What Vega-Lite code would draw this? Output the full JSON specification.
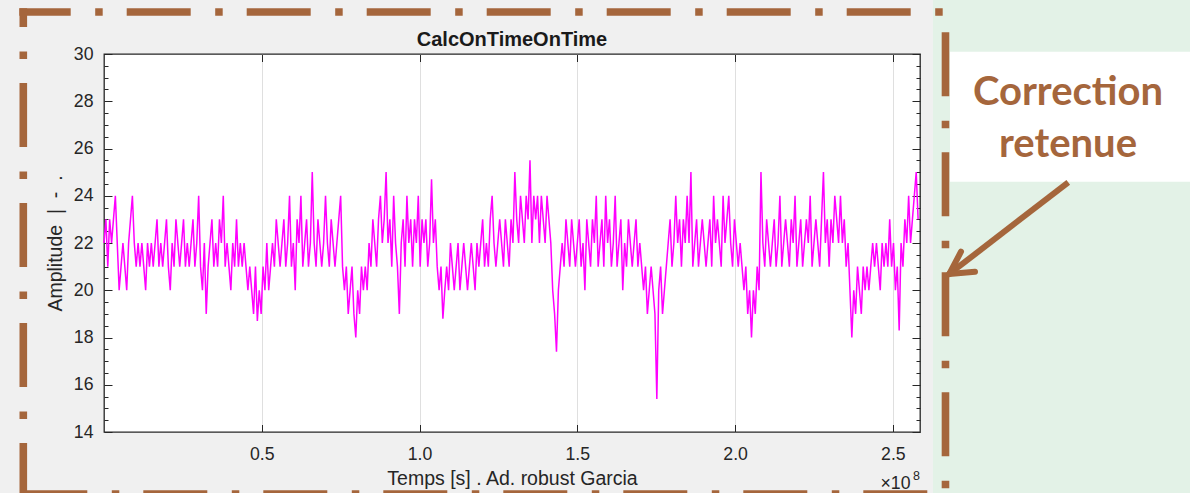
{
"$schema": "https://vega.github.io/schema/vega-lite/v6.json",
"width": 816, "height": 378,
"autosize": {"type": "none"},
"padding": {"left": 104, "top": 54, "right": 270, "bottom": 61},
"background": "#f0f0f0",
"config": {
  "view": {"fill": "#ffffff", "stroke": "#262626", "strokeWidth": 1.3},
  "axis": {"labelFont": "Liberation Sans", "titleFont": "Liberation Sans", "labelColor": "#262626", "titleColor": "#262626", "tickColor": "#262626", "labelOverlap": false, "labelFlush": false}
},
"datasets": {"sig": [
{"t":0,"v":22},{"t":0.006,"v":23},{"t":0.012,"v":21},{"t":0.018,"v":23},{"t":0.024,"v":22},{"t":0.03,"v":23},{"t":0.036,"v":24},{"t":0.042,"v":22},{"t":0.048,"v":20},{"t":0.054,"v":21},
{"t":0.06,"v":22},{"t":0.066,"v":21},{"t":0.072,"v":20},{"t":0.078,"v":22},{"t":0.084,"v":23},{"t":0.09,"v":24},{"t":0.096,"v":22},{"t":0.102,"v":21},{"t":0.108,"v":22},{"t":0.114,"v":21},
{"t":0.12,"v":22},{"t":0.126,"v":21},{"t":0.132,"v":20},{"t":0.138,"v":22},{"t":0.144,"v":21},{"t":0.15,"v":22},{"t":0.156,"v":21},{"t":0.162,"v":22},{"t":0.168,"v":23},{"t":0.174,"v":21},
{"t":0.18,"v":22},{"t":0.186,"v":21},{"t":0.192,"v":22},{"t":0.198,"v":23},{"t":0.204,"v":21},{"t":0.21,"v":20},{"t":0.216,"v":22},{"t":0.222,"v":21},{"t":0.228,"v":23},{"t":0.234,"v":22},
{"t":0.24,"v":21},{"t":0.246,"v":22},{"t":0.252,"v":23},{"t":0.258,"v":21},{"t":0.264,"v":22},{"t":0.27,"v":21},{"t":0.276,"v":22},{"t":0.282,"v":23},{"t":0.288,"v":21},{"t":0.294,"v":22},
{"t":0.3,"v":24},{"t":0.306,"v":21},{"t":0.312,"v":20},{"t":0.318,"v":22},{"t":0.324,"v":19},{"t":0.33,"v":21},{"t":0.336,"v":22},{"t":0.342,"v":23},{"t":0.348,"v":21},{"t":0.354,"v":22},
{"t":0.36,"v":21},{"t":0.366,"v":23},{"t":0.372,"v":22},{"t":0.378,"v":24},{"t":0.384,"v":21},{"t":0.39,"v":22},{"t":0.396,"v":21},{"t":0.402,"v":20},{"t":0.408,"v":22},{"t":0.414,"v":21},
{"t":0.42,"v":23},{"t":0.426,"v":21},{"t":0.432,"v":22},{"t":0.438,"v":21},{"t":0.444,"v":22},{"t":0.45,"v":21},{"t":0.456,"v":20},{"t":0.462,"v":21},{"t":0.468,"v":20},{"t":0.474,"v":19},
{"t":0.48,"v":21},{"t":0.486,"v":18.7},{"t":0.492,"v":20},{"t":0.498,"v":19},{"t":0.504,"v":21},{"t":0.51,"v":20},{"t":0.516,"v":22},{"t":0.522,"v":20},{"t":0.528,"v":21},{"t":0.534,"v":22},
{"t":0.54,"v":21},{"t":0.546,"v":23},{"t":0.552,"v":22},{"t":0.558,"v":21},{"t":0.564,"v":22},{"t":0.57,"v":23},{"t":0.576,"v":21},{"t":0.582,"v":22},{"t":0.588,"v":24},{"t":0.594,"v":21},
{"t":0.6,"v":22},{"t":0.606,"v":20},{"t":0.612,"v":23},{"t":0.618,"v":22},{"t":0.624,"v":24},{"t":0.63,"v":21},{"t":0.636,"v":22},{"t":0.642,"v":23},{"t":0.648,"v":21},{"t":0.654,"v":22},
{"t":0.66,"v":25},{"t":0.666,"v":22},{"t":0.672,"v":21},{"t":0.678,"v":23},{"t":0.684,"v":22},{"t":0.69,"v":21},{"t":0.696,"v":22},{"t":0.702,"v":24},{"t":0.708,"v":22},{"t":0.714,"v":21},
{"t":0.72,"v":23},{"t":0.726,"v":22},{"t":0.732,"v":21},{"t":0.738,"v":22},{"t":0.744,"v":23},{"t":0.75,"v":24},{"t":0.756,"v":21},{"t":0.762,"v":20},{"t":0.768,"v":21},{"t":0.774,"v":19},
{"t":0.78,"v":20},{"t":0.786,"v":21},{"t":0.792,"v":19},{"t":0.798,"v":18},{"t":0.804,"v":20},{"t":0.81,"v":19},{"t":0.816,"v":21},{"t":0.822,"v":20},{"t":0.828,"v":21},{"t":0.834,"v":20},
{"t":0.84,"v":22},{"t":0.846,"v":21},{"t":0.852,"v":23},{"t":0.858,"v":22},{"t":0.864,"v":21},{"t":0.87,"v":23},{"t":0.876,"v":24},{"t":0.882,"v":22},{"t":0.888,"v":23},{"t":0.894,"v":25},
{"t":0.9,"v":22},{"t":0.906,"v":23},{"t":0.912,"v":21},{"t":0.918,"v":24},{"t":0.924,"v":22},{"t":0.93,"v":21},{"t":0.936,"v":19},{"t":0.942,"v":22},{"t":0.948,"v":23},{"t":0.954,"v":21},
{"t":0.96,"v":24},{"t":0.966,"v":22},{"t":0.972,"v":23},{"t":0.978,"v":21},{"t":0.984,"v":23},{"t":0.99,"v":22},{"t":0.996,"v":24},{"t":1.002,"v":21},{"t":1.008,"v":23},{"t":1.014,"v":22},
{"t":1.02,"v":23},{"t":1.026,"v":21},{"t":1.032,"v":22},{"t":1.038,"v":24.7},{"t":1.044,"v":22},{"t":1.05,"v":23},{"t":1.056,"v":21},{"t":1.062,"v":20},{"t":1.068,"v":21},{"t":1.074,"v":18.8},
{"t":1.08,"v":20},{"t":1.086,"v":21},{"t":1.092,"v":20},{"t":1.098,"v":22},{"t":1.104,"v":21},{"t":1.11,"v":20},{"t":1.116,"v":21},{"t":1.122,"v":22},{"t":1.128,"v":20},{"t":1.134,"v":21},
{"t":1.14,"v":22},{"t":1.146,"v":21},{"t":1.152,"v":20},{"t":1.158,"v":21},{"t":1.164,"v":22},{"t":1.17,"v":21},{"t":1.176,"v":20},{"t":1.182,"v":22},{"t":1.188,"v":21},{"t":1.194,"v":22},
{"t":1.2,"v":23},{"t":1.206,"v":21},{"t":1.212,"v":22},{"t":1.218,"v":21},{"t":1.224,"v":23},{"t":1.23,"v":24},{"t":1.236,"v":22},{"t":1.242,"v":21},{"t":1.248,"v":22},{"t":1.254,"v":23},
{"t":1.26,"v":22},{"t":1.266,"v":21},{"t":1.272,"v":23},{"t":1.278,"v":22},{"t":1.284,"v":21},{"t":1.29,"v":23},{"t":1.296,"v":22},{"t":1.302,"v":25},{"t":1.308,"v":23},{"t":1.314,"v":22},
{"t":1.32,"v":24},{"t":1.326,"v":23},{"t":1.332,"v":22},{"t":1.338,"v":24},{"t":1.344,"v":23},{"t":1.35,"v":25.5},{"t":1.356,"v":22},{"t":1.362,"v":24},{"t":1.368,"v":23},{"t":1.374,"v":24},
{"t":1.38,"v":22},{"t":1.386,"v":24},{"t":1.392,"v":23},{"t":1.398,"v":22},{"t":1.404,"v":24},{"t":1.41,"v":23},{"t":1.416,"v":22},{"t":1.422,"v":20},{"t":1.428,"v":19},{"t":1.434,"v":17.4},
{"t":1.44,"v":20},{"t":1.446,"v":21},{"t":1.452,"v":22},{"t":1.458,"v":21},{"t":1.464,"v":23},{"t":1.47,"v":22},{"t":1.476,"v":21},{"t":1.482,"v":23},{"t":1.488,"v":22},{"t":1.494,"v":21},
{"t":1.5,"v":22},{"t":1.506,"v":23},{"t":1.512,"v":21},{"t":1.518,"v":22},{"t":1.524,"v":20},{"t":1.53,"v":23},{"t":1.536,"v":22},{"t":1.542,"v":21},{"t":1.548,"v":23},{"t":1.554,"v":22},
{"t":1.56,"v":24},{"t":1.566,"v":21},{"t":1.572,"v":22},{"t":1.578,"v":23},{"t":1.584,"v":21},{"t":1.59,"v":24},{"t":1.596,"v":22},{"t":1.602,"v":23},{"t":1.608,"v":21},{"t":1.614,"v":22},
{"t":1.62,"v":24},{"t":1.626,"v":21},{"t":1.632,"v":22},{"t":1.638,"v":23},{"t":1.644,"v":20},{"t":1.65,"v":22},{"t":1.656,"v":21},{"t":1.662,"v":23},{"t":1.668,"v":22},{"t":1.674,"v":21},
{"t":1.68,"v":22},{"t":1.686,"v":23},{"t":1.692,"v":21},{"t":1.698,"v":22},{"t":1.704,"v":21},{"t":1.71,"v":20},{"t":1.716,"v":21},{"t":1.722,"v":19},{"t":1.728,"v":20},{"t":1.734,"v":21},
{"t":1.74,"v":20},{"t":1.746,"v":19},{"t":1.752,"v":15.4},{"t":1.758,"v":20},{"t":1.764,"v":21},{"t":1.77,"v":19},{"t":1.776,"v":20},{"t":1.782,"v":21},{"t":1.788,"v":22},{"t":1.794,"v":23},
{"t":1.8,"v":21},{"t":1.806,"v":22},{"t":1.812,"v":24},{"t":1.818,"v":22},{"t":1.824,"v":23},{"t":1.83,"v":21},{"t":1.836,"v":23},{"t":1.842,"v":22},{"t":1.848,"v":24},{"t":1.854,"v":22},
{"t":1.86,"v":25},{"t":1.866,"v":21},{"t":1.872,"v":22},{"t":1.878,"v":23},{"t":1.884,"v":21},{"t":1.89,"v":22},{"t":1.896,"v":23},{"t":1.902,"v":22},{"t":1.908,"v":21},{"t":1.914,"v":22},
{"t":1.92,"v":23},{"t":1.926,"v":21},{"t":1.932,"v":24},{"t":1.938,"v":22},{"t":1.944,"v":23},{"t":1.95,"v":22},{"t":1.956,"v":21},{"t":1.962,"v":24},{"t":1.968,"v":22},{"t":1.974,"v":23},
{"t":1.98,"v":24},{"t":1.986,"v":22},{"t":1.992,"v":21},{"t":1.998,"v":23},{"t":2.004,"v":22},{"t":2.01,"v":21},{"t":2.016,"v":22},{"t":2.022,"v":21},{"t":2.028,"v":20},{"t":2.034,"v":21},
{"t":2.04,"v":19},{"t":2.046,"v":20},{"t":2.052,"v":18},{"t":2.058,"v":20},{"t":2.064,"v":19},{"t":2.07,"v":21},{"t":2.076,"v":20},{"t":2.082,"v":25},{"t":2.088,"v":22},{"t":2.094,"v":21},
{"t":2.1,"v":23},{"t":2.106,"v":22},{"t":2.112,"v":21},{"t":2.118,"v":22},{"t":2.124,"v":23},{"t":2.13,"v":21},{"t":2.136,"v":22},{"t":2.142,"v":24},{"t":2.148,"v":21},{"t":2.154,"v":22},
{"t":2.16,"v":23},{"t":2.166,"v":22},{"t":2.172,"v":21},{"t":2.178,"v":23},{"t":2.184,"v":22},{"t":2.19,"v":24},{"t":2.196,"v":21},{"t":2.202,"v":22},{"t":2.208,"v":23},{"t":2.214,"v":21},
{"t":2.22,"v":22},{"t":2.226,"v":23},{"t":2.232,"v":22},{"t":2.238,"v":24},{"t":2.244,"v":21},{"t":2.25,"v":22},{"t":2.256,"v":23},{"t":2.262,"v":22},{"t":2.268,"v":21},{"t":2.274,"v":23},
{"t":2.28,"v":25},{"t":2.286,"v":22},{"t":2.292,"v":23},{"t":2.298,"v":21},{"t":2.304,"v":23},{"t":2.31,"v":22},{"t":2.316,"v":24},{"t":2.322,"v":23},{"t":2.328,"v":22},{"t":2.334,"v":24},
{"t":2.34,"v":22},{"t":2.346,"v":23},{"t":2.352,"v":21},{"t":2.358,"v":22},{"t":2.364,"v":20},{"t":2.37,"v":18},{"t":2.376,"v":20},{"t":2.382,"v":19},{"t":2.388,"v":21},{"t":2.394,"v":20},
{"t":2.4,"v":19},{"t":2.406,"v":21},{"t":2.412,"v":20},{"t":2.418,"v":21},{"t":2.424,"v":20},{"t":2.43,"v":21},{"t":2.436,"v":22},{"t":2.442,"v":21},{"t":2.448,"v":22},{"t":2.454,"v":21},
{"t":2.46,"v":20},{"t":2.466,"v":22},{"t":2.472,"v":21},{"t":2.478,"v":22},{"t":2.484,"v":21},{"t":2.49,"v":23},{"t":2.496,"v":21},{"t":2.502,"v":22},{"t":2.508,"v":20},{"t":2.514,"v":21},
{"t":2.52,"v":18.3},{"t":2.526,"v":22},{"t":2.532,"v":21},{"t":2.538,"v":23},{"t":2.544,"v":22},{"t":2.55,"v":24},{"t":2.556,"v":22},{"t":2.562,"v":23},{"t":2.568,"v":24},{"t":2.574,"v":25},
{"t":2.58,"v":23}
]},
"layer": [
  {"data": {"values": [{}]},
   "mark": {"type": "rect", "fill": "#e3f2e7"},
   "encoding": {"x": {"datum": 2.627, "type": "quantitative", "axis": null}, "x2": {"datum": 3.6},
                "y": {"datum": 33, "type": "quantitative", "axis": null}, "y2": {"datum": 10}}},
  {"data": {"values": [{}]},
   "mark": {"type": "rect", "fill": "#ffffff"},
   "encoding": {"x": {"datum": 2.681, "type": "quantitative", "axis": null}, "x2": {"datum": 3.6},
                "y": {"datum": 30.097, "type": "quantitative", "axis": null}, "y2": {"datum": 24.595}}},
  {"data": {"name": "sig"},
   "mark": {"type": "line", "color": "#ff00ff", "strokeWidth": 1.5},
   "encoding": {
     "x": {"field": "t", "type": "quantitative", "scale": {"domain": [0, 2.586], "nice": false, "zero": false},
           "axis": {"orient": "bottom", "values": [0.5, 1, 1.5, 2, 2.5], "grid": true, "gridColor": "#dfdfdf", "gridWidth": 1, "domain": false,
                    "tickSize": -7.5, "tickWidth": 1, "labelFontSize": 17.7, "labelPadding": 21,
                    "title": "Temps [s] . Ad. robust Garcia", "titleFontSize": 19.5, "titleFontWeight": "normal", "titlePadding": 6}},
     "y": {"field": "v", "type": "quantitative", "scale": {"domain": [14, 30], "nice": false, "zero": false},
           "axis": {"orient": "left", "values": [14,14.5,15,15.5,16,16.5,17,17.5,18,18.5,19,19.5,20,20.5,21,21.5,22,22.5,23,23.5,24,24.5,25,25.5,26,26.5,27,27.5,28,28.5,29,29.5,30],
                    "grid": false, "domain": false,
                    "tickSize": {"condition": {"test": "datum.value % 2 === 0", "value": -8}, "value": -4}, "tickWidth": 1,
                    "labelExpr": "datum.value % 2 === 0 ? format(datum.value, 'd') : ''", "labelFontSize": 17.7, "labelPadding": 19,
                    "title": "Amplitude\u00a0\u00a0|\u00a0\u00a0-\u00a0\u00a0.", "titleFontSize": 19.5, "titleFontWeight": "normal", "titlePadding": 8}}
   }},
  {"data": {"name": "sig"},
   "mark": {"type": "line", "strokeOpacity": 0},
   "encoding": {
     "x": {"field": "t", "type": "quantitative",
           "axis": {"orient": "top", "values": [0.5, 1, 1.5, 2, 2.5], "grid": false, "domain": false, "labels": false, "tickSize": -7.5, "tickWidth": 1, "title": null}},
     "y": {"field": "v", "type": "quantitative",
           "axis": {"orient": "right", "values": [14,14.5,15,15.5,16,16.5,17,17.5,18,18.5,19,19.5,20,20.5,21,21.5,22,22.5,23,23.5,24,24.5,25,25.5,26,26.5,27,27.5,28,28.5,29,29.5,30],
                    "grid": false, "domain": false, "labels": false,
                    "tickSize": {"condition": {"test": "datum.value % 2 === 0", "value": -8}, "value": -4}, "tickWidth": 1, "title": null}}
   }},
  {"data": {"values": [{}]},
   "mark": {"type": "text", "text": "CalcOnTimeOnTime", "font": "Liberation Sans", "fontSize": 20, "fontWeight": "bold", "color": "#1a1a1a", "align": "center", "baseline": "alphabetic", "dy": -8},
   "encoding": {"x": {"datum": 1.293, "type": "quantitative", "axis": null}, "y": {"datum": 30, "type": "quantitative", "axis": null}}},
  {"data": {"values": [{}]},
   "mark": {"type": "text", "text": "×10", "font": "Liberation Sans", "fontSize": 17.7, "color": "#262626", "align": "right", "baseline": "alphabetic", "dx": -9.5, "dy": 57},
   "encoding": {"x": {"datum": 2.586, "type": "quantitative", "axis": null}, "y": {"datum": 14, "type": "quantitative", "axis": null}}},
  {"data": {"values": [{}]},
   "mark": {"type": "text", "text": "8", "font": "Liberation Sans", "fontSize": 12.5, "color": "#262626", "align": "right", "baseline": "alphabetic", "dx": 0, "dy": 48},
   "encoding": {"x": {"datum": 2.586, "type": "quantitative", "axis": null}, "y": {"datum": 14, "type": "quantitative", "axis": null}}},
  {"data": {"values": [{}]},
   "mark": {"type": "rule", "stroke": "#a5663c", "strokeWidth": 7.6, "strokeCap": "butt", "strokeDash": [64, 24.5, 7.5, 24], "strokeDashOffset": 12.6},
   "encoding": {"x": {"datum": -0.26842, "type": "quantitative", "axis": null}, "x2": {"datum": 2.67882},
                "y": {"datum": 31.778, "type": "quantitative", "axis": null}, "y2": {"datum": 31.778}}},
  {"data": {"values": [{}]},
   "mark": {"type": "rule", "stroke": "#a5663c", "strokeWidth": 7.6, "strokeCap": "butt", "strokeDash": [64, 24.5, 7.5, 24], "strokeDashOffset": 45.3},
   "encoding": {"x": {"datum": -0.25574, "type": "quantitative", "axis": null}, "x2": {"datum": -0.25574},
                "y": {"datum": 31.9344, "type": "quantitative", "axis": null}, "y2": {"datum": 11.2487}}},
  {"data": {"values": [{}]},
   "mark": {"type": "rule", "stroke": "#a5663c", "strokeWidth": 7.6, "strokeCap": "butt", "strokeDash": [64, 24.5, 7.5, 24], "strokeDashOffset": 96},
   "encoding": {"x": {"datum": 2.66677, "type": "quantitative", "axis": null}, "x2": {"datum": 2.66677},
                "y": {"datum": 31.9344, "type": "quantitative", "axis": null}, "y2": {"datum": 11.2487}}},
  {"data": {"values": [{}]},
   "mark": {"type": "rule", "stroke": "#a5663c", "strokeWidth": 7.6, "strokeCap": "butt", "strokeDash": [64, 24.5, 7.5, 24], "strokeDashOffset": 0},
   "encoding": {"x": {"datum": -0.25574, "type": "quantitative", "axis": null}, "x2": {"datum": 2.67882},
                "y": {"datum": 11.3757, "type": "quantitative", "axis": null}, "y2": {"datum": 11.3757}}},
  {"data": {"values": [{}]},
   "mark": {"type": "rule", "stroke": "#a5663c", "strokeWidth": 6, "strokeCap": "butt"},
   "encoding": {"x": {"datum": 3.0559, "type": "quantitative", "axis": null}, "x2": {"datum": 2.6788},
                "y": {"datum": 24.569, "type": "quantitative", "axis": null}, "y2": {"datum": 20.688}}},
  {"data": {"values": [{}]},
   "mark": {"type": "rule", "stroke": "#a5663c", "strokeWidth": 6, "strokeCap": "round"},
   "encoding": {"x": {"datum": 2.6788, "type": "quantitative", "axis": null}, "x2": {"datum": 2.7159},
                "y": {"datum": 20.688, "type": "quantitative", "axis": null}, "y2": {"datum": 21.632}}},
  {"data": {"values": [{}]},
   "mark": {"type": "rule", "stroke": "#a5663c", "strokeWidth": 6, "strokeCap": "round"},
   "encoding": {"x": {"datum": 2.6788, "type": "quantitative", "axis": null}, "x2": {"datum": 2.7603},
                "y": {"datum": 20.688, "type": "quantitative", "axis": null}, "y2": {"datum": 20.785}}},
  {"data": {"values": [{}]},
   "mark": {"type": "text", "text": "Correction", "font": "Lato", "fontSize": 40, "fontWeight": "bold", "color": "#a5663c", "align": "center", "baseline": "alphabetic"},
   "encoding": {"x": {"datum": 3.055, "type": "quantitative", "axis": null}, "y": {"datum": 27.841, "type": "quantitative", "axis": null}}},
  {"data": {"values": [{}]},
   "mark": {"type": "text", "text": "retenue", "font": "Lato", "fontSize": 40, "fontWeight": "bold", "color": "#a5663c", "align": "center", "baseline": "alphabetic"},
   "encoding": {"x": {"datum": 3.055, "type": "quantitative", "axis": null}, "y": {"datum": 25.653, "type": "quantitative", "axis": null}}}
],
"resolve": {"axis": {"x": "independent", "y": "independent"}}
}
